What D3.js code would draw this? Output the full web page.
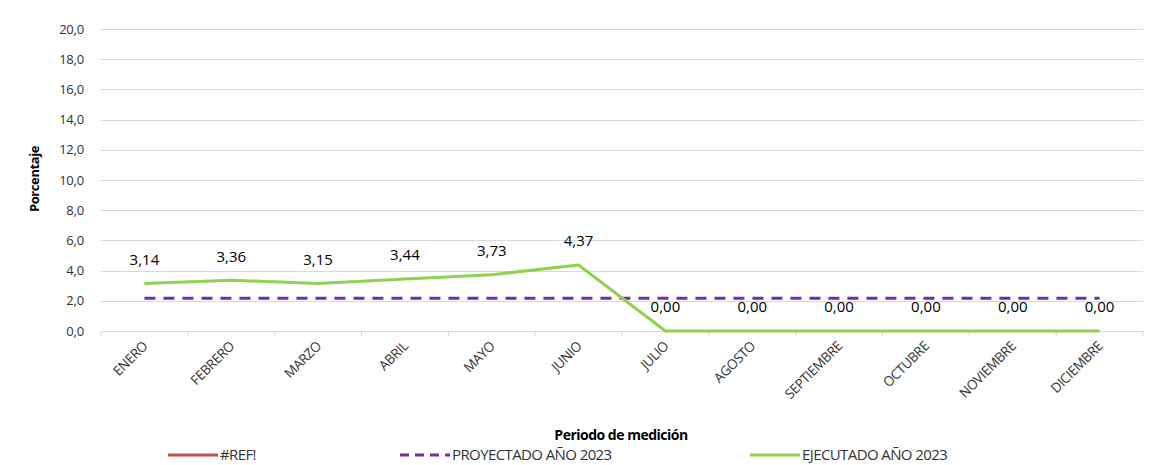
<!DOCTYPE html>
<html><head><meta charset="utf-8">
<script src="https://cdn.jsdelivr.net/npm/d3@7"></script>
<style>body{margin:0;background:#fff}svg{display:block}</style>
</head><body>
<script>
const categories = ["ENERO","FEBRERO","MARZO","ABRIL","MAYO","JUNIO","JULIO","AGOSTO","SEPTIEMBRE","OCTUBRE","NOVIEMBRE","DICIEMBRE"];
const ejecutado = [3.14,3.36,3.15,3.44,3.73,4.37,0,0,0,0,0,0];
const proyectado = [2.17,2.17,2.17,2.17,2.17,2.17,2.17,2.17,2.17,2.17,2.17,2.17];
const yTicks = [0,2,4,6,8,10,12,14,16,18,20];
const legendLabels = ["#REF!","PROYECTADO AÑO 2023","EJECUTADO AÑO 2023"];

const W=1167,H=465;
const font="'Open Sans', 'Noto Sans', sans-serif";
const svg=d3.select("body").append("svg").attr("width",W).attr("height",H);
const x=d3.scaleBand().domain(categories).range([101,1143]);
const y=d3.scaleLinear().domain([0,20]).range([331,29]);
const fmt=v=>d3.format(".1f")(v).replace(".",",");
const fmt2=v=>d3.format(".2f")(v).replace(".",",");

// gridlines
svg.append("g").selectAll("line").data(yTicks.slice(1)).join("line")
  .attr("x1",101).attr("x2",1143).attr("y1",d=>Math.round(y(d))+0.5).attr("y2",d=>Math.round(y(d))+0.5)
  .attr("stroke","#d9d9d9").attr("stroke-width",1);

// y axis labels
svg.append("g").selectAll("text").data(yTicks).join("text")
  .attr("x",84).attr("y",d=>y(d)).attr("dy","0.35em").attr("text-anchor","end")
  .attr("font-family",font).attr("font-size",13).attr("letter-spacing","-0.2").attr("fill","#333").text(fmt);

// x axis
const xa=svg.append("g").attr("transform","translate(0,331)")
  .call(d3.axisBottom(x).tickSize(0).tickFormat(""));
xa.select(".domain").attr("stroke","#d9d9d9");
svg.append("g").selectAll("line").data(categories.concat(["end"])).join("line")
  .attr("x1",(d,i)=>101+i*x.bandwidth()).attr("x2",(d,i)=>101+i*x.bandwidth())
  .attr("y1",331).attr("y2",336).attr("stroke","#d9d9d9");
svg.append("g").selectAll("text").data(categories).join("text")
  .attr("transform",d=>`translate(${x(d)+x.bandwidth()/2+4},347) rotate(-45)`)
  .attr("text-anchor","end").attr("font-family",font).attr("font-size",13.5)
  .attr("letter-spacing","-0.4").attr("fill","#333").text(d=>d);

const cx=d=>x(d)+x.bandwidth()/2;

// projected line
svg.append("path").datum(proyectado)
  .attr("d",d3.line().x((d,i)=>cx(categories[i])).y(d=>y(d)))
  .attr("fill","none").attr("stroke","#7030a0").attr("stroke-width",3).attr("stroke-dasharray","11,8");

// executed line
svg.append("path").datum(ejecutado)
  .attr("d",d3.line().x((d,i)=>cx(categories[i])).y(d=>y(d)))
  .attr("fill","none").attr("stroke","#92d050").attr("stroke-width",3).attr("stroke-linejoin","round");

// data labels
svg.append("g").selectAll("text").data(ejecutado).join("text")
  .attr("x",(d,i)=>cx(categories[i])).attr("y",d=>y(d)-24).attr("dy","0.35em")
  .attr("text-anchor","middle").attr("font-family",font).attr("font-size",15).attr("fill","#000")
  .text(fmt2);

// axis titles
svg.append("text").attr("transform","translate(39,179) rotate(-90)").attr("text-anchor","middle")
  .attr("font-family",font).attr("font-size",13).attr("font-weight","bold").attr("letter-spacing","-0.4").text("Porcentaje");
svg.append("text").attr("x",621).attr("y",440).attr("text-anchor","middle")
  .attr("font-family",font).attr("font-size",14).attr("font-weight","bold").attr("letter-spacing","-0.5").text("Periodo de medición");

// legend
const leg=[{x:168,c:"#c0504d",dash:null},{x:400,c:"#7030a0",dash:"9,6"},{x:750,c:"#92d050",dash:null}];
leg.forEach((l,i)=>{
  svg.append("line").attr("x1",l.x).attr("x2",l.x+50).attr("y1",455).attr("y2",455)
    .attr("stroke",l.c).attr("stroke-width",3).attr("stroke-dasharray",l.dash);
  svg.append("text").attr("x",l.x+52).attr("y",455).attr("dy","0.35em")
    .attr("font-family",font).attr("font-size",15).attr("letter-spacing","-0.6").attr("fill","#333").text(legendLabels[i]);
});
</script>
</body></html>
